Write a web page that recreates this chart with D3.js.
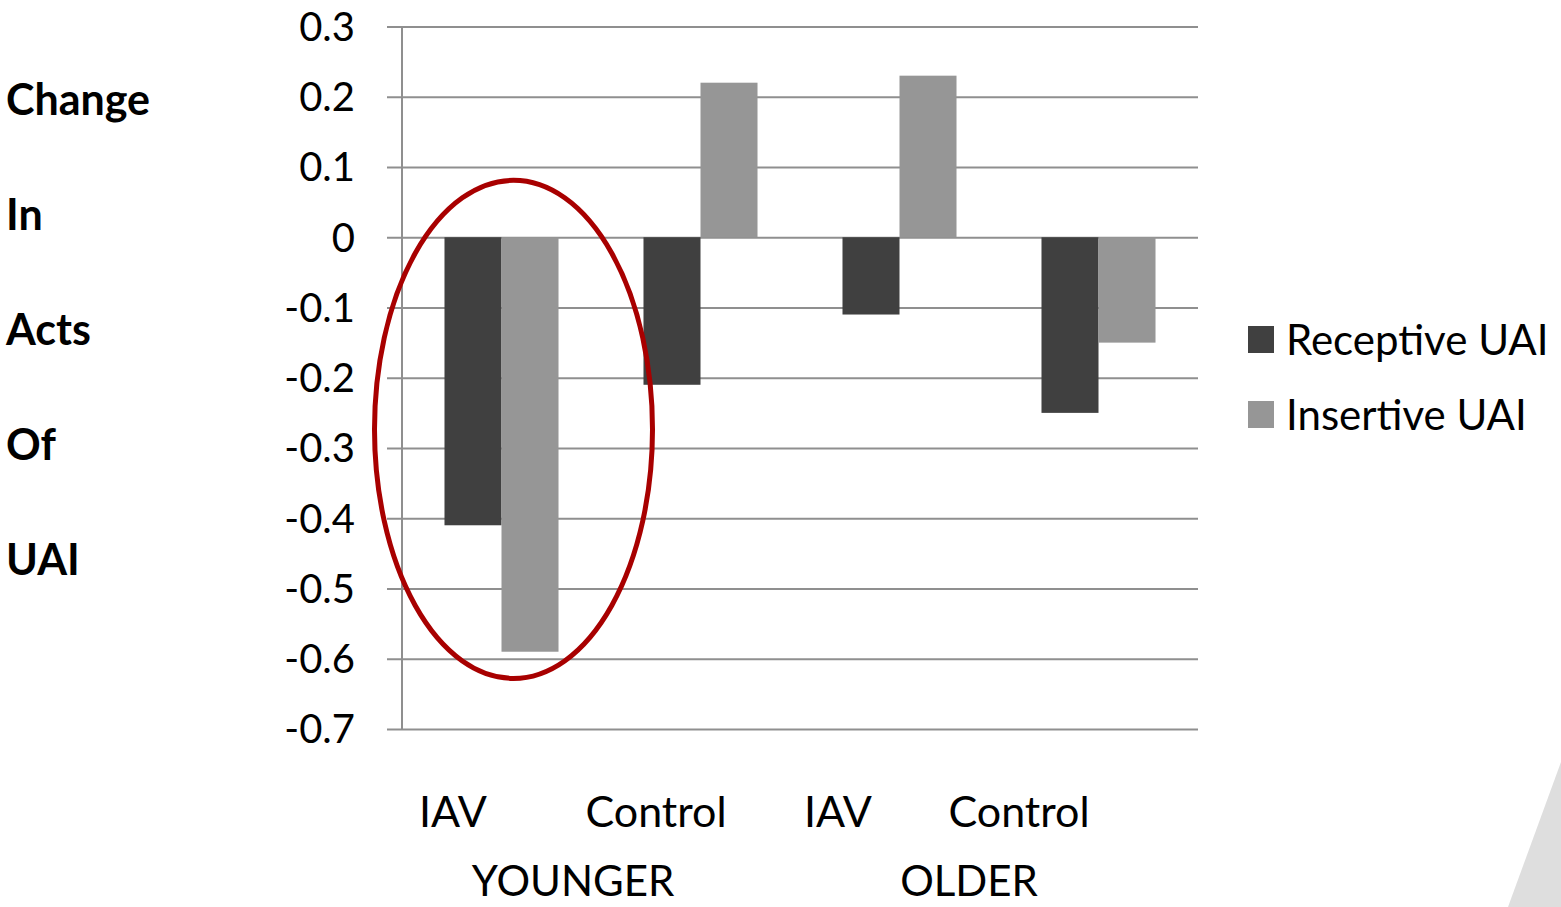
<!DOCTYPE html>
<html>
<head>
<meta charset="utf-8">
<script src="https://cdn.jsdelivr.net/npm/d3@7"></script>
<style>
  html, body { margin: 0; padding: 0; background: #ffffff; }
  svg { display: block; }
  text { font-family: Lato, "Open Sans", sans-serif; fill: #000; }
</style>
</head>
<body>
<svg id="chart" width="1561" height="907"></svg>
<script>
// Change in acts of UAI by group and condition
const categories = ["YOUNGER IAV", "YOUNGER Control", "OLDER IAV", "OLDER Control"];
const categoryLabels = ["IAV", "Control", "IAV", "Control"];
const groups = ["YOUNGER", "OLDER"];
const seriesNames = ["Receptive UAI", "Insertive UAI"];
const receptive = [-0.41, -0.21, -0.11, -0.25];
const insertive = [-0.59, 0.22, 0.23, -0.15];
const yTicks = [0.3, 0.2, 0.1, 0, -0.1, -0.2, -0.3, -0.4, -0.5, -0.6, -0.7];
const yTickLabels = ["0.3", "0.2", "0.1", "0", "-0.1", "-0.2", "-0.3", "-0.4", "-0.5", "-0.6", "-0.7"];
const titleWords = ["Change", "In", "Acts", "Of", "UAI"];

const colors = { "Receptive UAI": "#404040", "Insertive UAI": "#969696" };
const seriesValues = { "Receptive UAI": receptive, "Insertive UAI": insertive };

const svg = d3.select("#chart");

// plot area
const plotLeft = 402, plotRight = 1198, plotTop = 26.5, plotBottom = 729;

const y = d3.scaleLinear().domain([-0.7, 0.3]).range([plotBottom, plotTop]);
const x0 = d3.scaleBand().domain(categories).range([plotLeft, plotRight])
  .paddingInner(0.427).paddingOuter(0.2135);
const x1 = d3.scaleBand().domain(seriesNames).range([0, x0.bandwidth()]).padding(0);

// slide decoration in the lower right corner
svg.append("path")
  .attr("d", "M1508,907 L1561,762 L1561,907 Z")
  .attr("fill", "#dedede");

// horizontal gridlines with outside tick marks
const yAxis = d3.axisLeft(y)
  .tickValues(yTicks)
  .tickSize(-(plotRight - plotLeft))
  .tickFormat("");
const gAxis = svg.append("g").attr("transform", `translate(${plotLeft},0)`).call(yAxis);
gAxis.select(".domain").remove();
gAxis.selectAll(".tick line")
  .attr("x1", -15)
  .attr("stroke", "#8f8f8f")
  .attr("stroke-width", 2);

// vertical axis line
svg.append("line")
  .attr("x1", plotLeft).attr("x2", plotLeft)
  .attr("y1", y(0.3)).attr("y2", y(-0.7))
  .attr("stroke", "#8f8f8f").attr("stroke-width", 2);

// tick labels
svg.append("g").selectAll("text")
  .data(yTicks)
  .join("text")
  .attr("x", 355)
  .attr("y", d => y(d))
  .attr("dy", "0.36em")
  .attr("text-anchor", "end")
  .attr("font-size", 40)
  .text((d, i) => yTickLabels[i]);

// bars
const gCat = svg.append("g").selectAll("g")
  .data(categories)
  .join("g")
  .attr("transform", d => `translate(${x0(d)},0)`);

gCat.selectAll("rect")
  .data((c, ci) => seriesNames.map(s => ({ s, v: seriesValues[s][ci] })))
  .join("rect")
  .attr("x", d => x1(d.s))
  .attr("width", x1.bandwidth())
  .attr("y", d => y(Math.max(0, d.v)))
  .attr("height", d => Math.abs(y(d.v) - y(0)))
  .attr("fill", d => colors[d.s]);

// category labels
const catLabelX = [453, 656, 838, 1019];
svg.append("g").selectAll("text")
  .data(categoryLabels)
  .join("text")
  .attr("x", (d, i) => catLabelX[i])
  .attr("y", 827)
  .attr("text-anchor", "middle")
  .attr("font-size", 43)
  .text(d => d);

// group labels
const groupLabelX = [573, 969];
svg.append("g").selectAll("text")
  .data(groups)
  .join("text")
  .attr("x", (d, i) => groupLabelX[i])
  .attr("y", 896)
  .attr("text-anchor", "middle")
  .attr("font-size", 42)
  .text(d => d);

// stacked vertical title
svg.append("g").selectAll("text")
  .data(titleWords)
  .join("text")
  .attr("x", 6)
  .attr("y", (d, i) => 115 + i * 115)
  .attr("font-size", 43)
  .attr("font-weight", "bold")
  .text(d => d);

// legend
const legend = svg.append("g").selectAll("g")
  .data(seriesNames)
  .join("g")
  .attr("transform", (d, i) => `translate(1248,${326 + i * 75})`);
legend.append("rect")
  .attr("width", 26).attr("height", 27)
  .attr("fill", d => colors[d]);
legend.append("text")
  .attr("x", 38)
  .attr("y", 13.5)
  .attr("dy", "0.36em")
  .attr("font-size", 42)
  .text(d => d);

// highlight ring around the younger IAV group
const ringCx = x0(categories[0]) + x0.bandwidth() / 2 + 12;
svg.append("ellipse")
  .attr("cx", ringCx)
  .attr("cy", (y(0.081) + y(-0.628)) / 2)
  .attr("rx", 139)
  .attr("ry", (y(-0.628) - y(0.081)) / 2)
  .attr("fill", "none")
  .attr("stroke", "#a80000")
  .attr("stroke-width", 5);
</script>
</body>
</html>
